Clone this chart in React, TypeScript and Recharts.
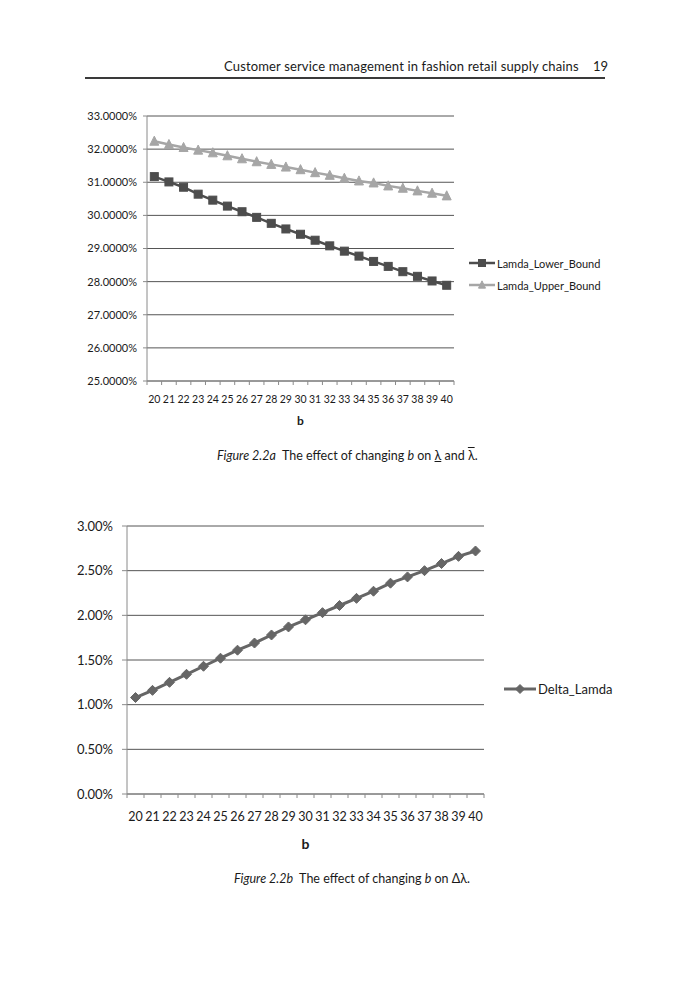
import React from 'react';
import { LineChart, Line, XAxis, YAxis, CartesianGrid, Legend } from 'recharts';

const bValues = [20, 21, 22, 23, 24, 25, 26, 27, 28, 29, 30, 31, 32, 33, 34, 35, 36, 37, 38, 39, 40];
const lowerBound = [31.17, 31.01, 30.85, 30.64, 30.46, 30.28, 30.11, 29.94, 29.76, 29.59, 29.43, 29.25, 29.08, 28.92, 28.77, 28.61, 28.46, 28.3, 28.16, 28.02, 27.89];
const upperBound = [32.24, 32.14, 32.05, 31.97, 31.89, 31.8, 31.71, 31.62, 31.54, 31.46, 31.38, 31.29, 31.21, 31.12, 31.04, 30.98, 30.89, 30.82, 30.74, 30.67, 30.59];
const deltaLamda = [1.08, 1.16, 1.25, 1.34, 1.43, 1.52, 1.61, 1.69, 1.78, 1.87, 1.95, 2.03, 2.11, 2.19, 2.27, 2.36, 2.43, 2.5, 2.58, 2.66, 2.72];
const yTicksA = [25, 26, 27, 28, 29, 30, 31, 32, 33];
const yTicksB = [0, 0.5, 1, 1.5, 2, 2.5, 3];
const xTicks = [
  19.5, 20, 20.5, 21, 21.5, 22, 22.5, 23, 23.5, 24, 24.5, 25, 25.5, 26, 26.5, 27, 27.5, 28, 28.5, 29, 29.5,
  30, 30.5, 31, 31.5, 32, 32.5, 33, 33.5, 34, 34.5, 35, 35.5, 36, 36.5, 37, 37.5, 38, 38.5, 39, 39.5, 40, 40.5,
];

const dataA = bValues.map((b, i) => ({ b, Lamda_Lower_Bound: lowerBound[i], Lamda_Upper_Bound: upperBound[i] }));
const dataB = bValues.map((b, i) => ({ b, Delta_Lamda: deltaLamda[i] }));

const CHART_FONT = 'Lato, "Open Sans", sans-serif';
const TEXT_FONT = 'Lato, "Open Sans", sans-serif';

const LOWER_COLOR = '#4d4d4d';
const UPPER_COLOR = '#a6a6a6';
const DELTA_COLOR = '#666666';
const GRID_COLOR = '#555555';
const AXIS_COLOR = '#8a8a8a';

const makeXTick = (fontSize: number, labelDy: number) => (props: any) => {
  const { x, y, payload } = props;
  const v = payload.value;
  if (Number.isInteger(v)) {
    return (
      <text x={x} y={y + labelDy} textAnchor="middle" fontSize={fontSize} fontFamily={CHART_FONT} fill="#1a1a1a">
        {v}
      </text>
    );
  }
  return <line x1={x} x2={x} y1={y} y2={y + 4} stroke={AXIS_COLOR} strokeWidth={1} />;
};

const square = (color: string, s: number) => (props: any) => {
  const { cx, cy, index } = props;
  return <rect key={`sq-${index}`} x={cx - s / 2} y={cy - s / 2} width={s} height={s} fill={color} stroke={color} />;
};
const triangle = (color: string, s: number) => (props: any) => {
  const { cx, cy, index } = props;
  const h = s * 0.9;
  return (
    <polygon
      key={`tr-${index}`}
      points={`${cx},${cy - h / 2 - 1} ${cx - s / 2},${cy + h / 2} ${cx + s / 2},${cy + h / 2}`}
      fill={color}
      stroke={color}
    />
  );
};
const diamond = (color: string, s: number) => (props: any) => {
  const { cx, cy, index } = props;
  return (
    <polygon
      key={`dm-${index}`}
      points={`${cx},${cy - s / 2} ${cx + s / 2},${cy} ${cx},${cy + s / 2} ${cx - s / 2},${cy}`}
      fill={color}
      stroke={color}
    />
  );
};

const markerFor = (key: string, color: string, cx: number, cy: number) => {
  if (key === 'Lamda_Lower_Bound') return square(color, 7)({ cx, cy, index: 0 });
  if (key === 'Lamda_Upper_Bound') return triangle(color, 7)({ cx, cy, index: 0 });
  return diamond(color, 9)({ cx, cy, index: 0 });
};

const makeLegend = (fontSize: number, iconW: number, rowH: number, lineW: number) => (props: any) => {
  const { payload } = props;
  return (
    <div style={{ fontFamily: CHART_FONT, fontSize, color: '#1a1a1a' }}>
      {(payload || []).map((e: any) => (
        <div key={e.value} style={{ display: 'flex', alignItems: 'center', height: rowH }}>
          <svg width={iconW} height={12} style={{ marginRight: 2 }}>
            <line x1={0} x2={iconW} y1={6} y2={6} stroke={e.color} strokeWidth={lineW} />
            {markerFor(e.dataKey, e.color, iconW / 2, 6)}
          </svg>
          <span>{e.value}</span>
        </div>
      ))}
    </div>
  );
};

const textStyle: React.CSSProperties = {
  position: 'absolute',
  fontFamily: TEXT_FONT,
  color: '#1a1a1a',
  whiteSpace: 'nowrap',
};

export default function App() {
  return (
    <div style={{ position: 'absolute', left: 0, top: 0, width: 698, height: 1000, background: '#ffffff', overflow: 'hidden' }}>
      {/* running header */}
      <div style={{ ...textStyle, left: 224, top: 58, fontSize: 13, letterSpacing: 0.15 }}>
        Customer service management in fashion retail supply chains
      </div>
      <div style={{ ...textStyle, left: 593, top: 58, fontSize: 13 }}>19</div>
      <div style={{ position: 'absolute', left: 85, top: 77, width: 520, height: 2, background: '#3a3a3a' }} />

      {/* Figure 2.2a */}
      <div style={{ position: 'absolute', left: 0, top: 0 }}>
        <LineChart width={698} height={440} data={dataA} margin={{ top: 116, right: 244, bottom: 14, left: 0 }}>
          <CartesianGrid vertical={false} stroke={GRID_COLOR} strokeWidth={1} />
          <XAxis
            dataKey="b"
            type="number"
            domain={[19.5, 40.5]}
            ticks={xTicks}
            interval={0}
            tickLine={false}
            tickSize={0}
            tickMargin={0}
            height={45}
            axisLine={{ stroke: AXIS_COLOR }}
            tick={makeXTick(10.5, 22)}
            label={{ value: 'b', position: 'insideBottom', offset: 1, fontFamily: CHART_FONT, fontSize: 12, fontWeight: 700, fill: '#1a1a1a' }}
          />
          <YAxis
            type="number"
            domain={[25, 33]}
            ticks={yTicksA}
            interval={0}
            width={147}
            tickSize={4}
            tickMargin={6}
            axisLine={{ stroke: AXIS_COLOR }}
            tickLine={{ stroke: AXIS_COLOR }}
            tickFormatter={(v: number) => `${v.toFixed(4)}%`}
            tick={{ fontFamily: CHART_FONT, fontSize: 11, fill: '#1a1a1a' }}
          />
          <Legend
            layout="vertical"
            align="center"
            verticalAlign="middle"
            wrapperStyle={{ left: 469, top: 252, width: 160 }}
            content={makeLegend(11, 26, 22, 2.5)}
          />
          <Line
            dataKey="Lamda_Lower_Bound"
            stroke={LOWER_COLOR}
            strokeWidth={2.5}
            isAnimationActive={false}
            dot={square(LOWER_COLOR, 8)}
            activeDot={false}
          />
          <Line
            dataKey="Lamda_Upper_Bound"
            stroke={UPPER_COLOR}
            strokeWidth={2.5}
            isAnimationActive={false}
            dot={triangle(UPPER_COLOR, 9)}
            activeDot={false}
          />
        </LineChart>
      </div>

      <div style={{ ...textStyle, left: 217, top: 448, fontSize: 12.5 }}>
        <i>Figure 2.2a</i>&nbsp;&nbsp;The effect of changing <i>b</i> on <span style={{ textDecoration: 'underline' }}>λ</span> and{' '}
        <span style={{ textDecoration: 'overline' }}>λ</span>.
      </div>

      {/* Figure 2.2b */}
      <div style={{ position: 'absolute', left: 0, top: 470 }}>
        <LineChart width={698} height={400} data={dataB} margin={{ top: 56, right: 214, bottom: 17, left: 0 }}>
          <CartesianGrid vertical={false} stroke={GRID_COLOR} strokeWidth={1} />
          <XAxis
            dataKey="b"
            type="number"
            domain={[19.5, 40.5]}
            ticks={xTicks}
            interval={0}
            tickLine={false}
            tickSize={0}
            tickMargin={0}
            height={59}
            axisLine={{ stroke: AXIS_COLOR }}
            tick={makeXTick(12.5, 27)}
            label={{ value: 'b', position: 'insideBottom', offset: 4, fontFamily: CHART_FONT, fontSize: 14, fontWeight: 700, fill: '#1a1a1a' }}
          />
          <YAxis
            type="number"
            domain={[0, 3]}
            ticks={yTicksB}
            interval={0}
            width={127}
            tickSize={5}
            tickMargin={9}
            axisLine={{ stroke: AXIS_COLOR }}
            tickLine={{ stroke: AXIS_COLOR }}
            tickFormatter={(v: number) => `${v.toFixed(2)}%`}
            tick={{ fontFamily: CHART_FONT, fontSize: 13, fill: '#1a1a1a' }}
          />
          <Legend
            layout="vertical"
            align="center"
            verticalAlign="middle"
            wrapperStyle={{ left: 504, top: 207, width: 150 }}
            content={makeLegend(13, 32, 24, 3)}
          />
          <Line
            dataKey="Delta_Lamda"
            stroke={DELTA_COLOR}
            strokeWidth={3}
            isAnimationActive={false}
            dot={diamond(DELTA_COLOR, 10)}
            activeDot={false}
          />
        </LineChart>
      </div>

      <div style={{ ...textStyle, left: 234, top: 871, fontSize: 12.5 }}>
        <i>Figure 2.2b</i>&nbsp;&nbsp;The effect of changing <i>b</i> on Δλ.
      </div>
    </div>
  );
}
